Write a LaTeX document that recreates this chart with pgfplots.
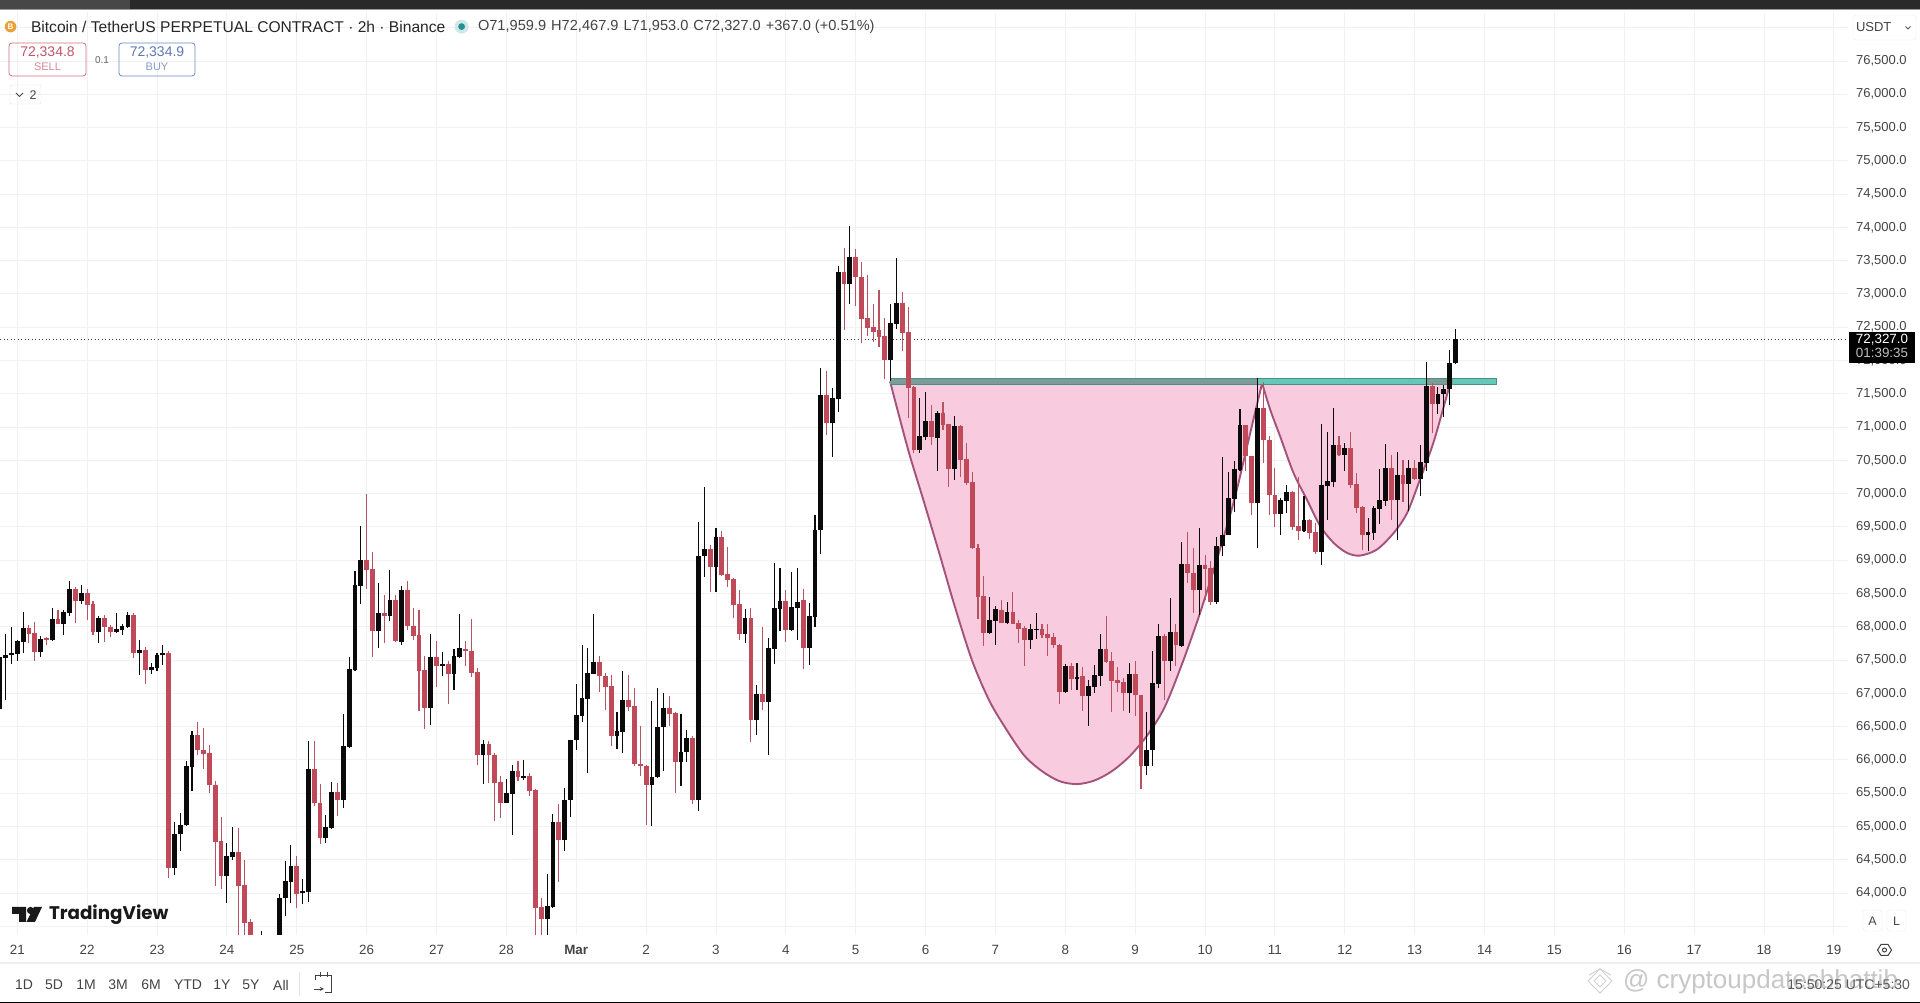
\documentclass[border=0pt]{standalone}
\usepackage{pgfplots}
\usepackage{pgfplotstable}
\usepackage{fontspec}
\pgfplotsset{compat=1.18}
\setmainfont{Liberation Sans}
\newfontfamily\tvfont{Poppins}
\definecolor{cred}{HTML}{C04A5A}
\definecolor{cwick}{HTML}{B85462}
\definecolor{cblk}{HTML}{0A0A0A}
\definecolor{cpink}{HTML}{F8C6DA}
\definecolor{ccurve}{HTML}{A4527C}
\definecolor{cgrid}{HTML}{F1F1F4}
\definecolor{clab}{HTML}{444448}
\definecolor{cteal}{HTML}{63C8B8}
\definecolor{ctealb}{HTML}{4A8F85}
\definecolor{cteald}{HTML}{7D9C97}
\definecolor{cbtc}{HTML}{EDA035}
\newcommand{\fs}[1]{\fontsize{#1}{#1}\selectfont}
\pgfplotstableread{
k o h l c
-3 66765 67555 66755 67540
-2 67530 67895 66905 67570
-1 67570 67990 67445 67600
0 67595 67795 67480 67785
1 67770 68220 67605 67975
2 67985 68020 67755 67895
3 67900 68070 67485 67620
4 67625 67855 67545 67810
5 67825 67845 67720 67795
6 67795 68280 67780 68110
7 68110 68245 68045 68045
8 68045 68255 67870 68220
9 68205 68690 68155 68565
10 68570 68590 68050 68390
11 68390 68630 68345 68500
12 68500 68570 68105 68330
13 68340 68380 67870 67920
14 67920 68155 67755 68125
15 68125 68180 67770 68000
16 68000 68030 67845 67920
17 67925 68205 67920 67960
18 67945 68045 67875 68005
19 67995 68220 67980 68170
20 68180 68205 67535 67605
21 67610 67805 67275 67645
22 67645 67695 67145 67350
23 67355 67455 67295 67390
24 67380 67605 67330 67580
25 67570 67720 67420 67600
26 67605 67630 64230 64380
27 64380 65070 64270 64880
28 64880 65195 64630 65015
29 65015 65980 65005 65905
30 65895 66430 65530 66370
31 66370 66565 66080 66155
32 66155 66480 65865 66090
33 66105 66230 65505 65615
34 65625 65690 64105 64770
35 64780 65140 64055 64255
36 64260 64755 63855 64555
37 64545 64995 64495 64615
38 64615 64980 63300 64105
39 64120 64490 63205 63555
40 63565 63605 62900 63100
41 63100 63300 62600 62800
42 62900 63430 62700 63200
43 63200 63300 62900 63050
44 63050 63300 62950 63180
45 63180 63980 63100 63930
46 63920 64480 63655 64180
47 64170 64720 63855 64405
48 64405 64555 63780 63990
49 63995 64205 63830 64025
50 64020 66280 63870 65865
51 65865 66280 65305 65345
52 65355 65630 64730 64830
53 64830 65165 64745 64995
54 64980 65665 64955 65515
55 65515 65645 65155 65390
56 65390 66690 65280 66205
57 66195 67540 66180 67365
58 67350 68840 67345 68620
59 68615 69520 68345 69000
60 69000 69995 68565 68850
61 68865 69130 67545 67930
62 67930 68650 67680 68200
63 68200 68480 67755 68165
64 68165 68855 68080 68400
65 68400 68480 67770 67780
66 67770 68605 67730 68545
67 68545 68680 67955 68015
68 68015 68280 67805 67865
69 67870 68255 66730 67340
70 67345 67555 66465 66780
71 66780 67890 66530 67540
72 67540 67790 67095 67415
73 67415 67620 67255 67445
74 67440 67480 66845 67295
75 67295 67665 67045 67555
76 67545 68190 67530 67675
77 67670 67790 67415 67630
78 67630 68115 67245 67305
79 67315 67380 65920 66080
80 66080 66305 65630 66240
81 66240 66290 65655 66070
82 66075 66105 65080 65655
83 65665 65755 65130 65355
84 65355 65720 65355 65500
85 65490 65920 64870 65830
86 65830 65980 65680 65740
87 65735 65995 65705 65760
88 65760 65805 65455 65530
89 65545 65565 63200 63780
90 63790 63930 63200 63615
91 63615 64280 63200 63805
92 63795 65180 63780 65065
93 65065 65330 64165 64790
94 64790 65580 64630 65395
95 65390 66305 65140 66305
96 66305 67140 66155 66670
97 66665 67730 66565 66930
98 66920 67680 65805 67305
99 67295 68190 67295 67465
100 67465 67565 67020 67255
101 67255 67305 66755 67095
102 67105 67270 66215 66365
103 66365 66720 66165 66430
104 66420 67330 66105 66895
105 66895 67270 66730 66795
106 66805 67080 65915 65945
107 65945 66515 65755 65915
108 65915 65930 65020 65615
109 65615 66880 65005 65740
110 65740 67080 65730 66490
111 66490 67005 65830 66775
112 66775 66955 66505 66695
113 66705 66715 65505 65965
114 65965 66695 65605 66125
115 66125 66445 65965 66325
116 66330 66355 65330 65395
117 65395 69580 65230 69070
118 69065 70095 68745 69165
119 69165 69230 68515 68905
120 68905 69490 68515 69355
121 69355 69445 68755 68770
122 68790 69205 68595 68695
123 68715 68730 68130 68325
124 68340 68545 67805 67890
125 67895 68265 67755 68125
126 68125 68280 66265 66605
127 66605 67120 66380 66990
128 66990 67995 66745 66870
129 66870 67830 66080 67675
130 67665 68965 67445 68275
131 68265 68880 67930 68380
132 68380 68555 67765 67955
133 67955 68815 67930 68290
134 68285 68880 67805 68365
135 68401 68561 67361 67686
136 67686 68361 67421 68161
137 68151 69686 67996 69451
138 69446 71886 69096 71476
139 71476 71836 70886 71061
140 71061 71586 70551 71431
141 71421 73426 71226 73326
142 73326 73686 72451 73151
143 73151 74026 72846 73561
144 73561 73671 72821 73251
145 73261 73486 72261 72626
146 72636 73286 72371 72486
147 72496 72846 72271 72426
148 72451 73061 72201 72351
149 72361 72636 71726 72011
150 72011 72851 71686 72556
151 72546 73536 72471 72871
152 72871 73036 72136 72411
153 72421 72811 71136 71586
154 71601 71611 70611 70651
155 70651 71436 70611 70861
156 70851 71526 70811 71086
157 71086 71326 70726 70846
158 70836 71236 70336 71211
159 71211 71376 70961 71026
160 71046 71051 70101 70371
161 70371 71161 70211 71011
162 71021 71026 70251 70511
163 70521 70761 70136 70161
164 70171 70321 69161 69176
165 69186 69236 68121 68451
166 68461 68761 67711 67911
167 67911 68446 67901 68101
168 68091 68311 67726 68261
169 68246 68401 68051 68061
170 68061 68371 68051 68221
171 68226 68521 68036 68046
172 68056 68101 67761 67971
173 67981 68011 67411 67796
174 67796 68036 67671 67961
175 67956 68211 67811 67971
176 67971 68036 67836 67876
177 67891 68046 67561 67836
178 67846 67911 67686 67726
179 67729 67739 66844 67019
180 67019 67444 67014 67414
181 67404 67454 67054 67214
182 67214 67454 67054 67249
183 67254 67389 66729 66964
184 66964 67204 66504 67104
185 67094 67419 67004 67269
186 67264 67889 67114 67659
187 67659 68154 67454 67469
188 67479 67614 66724 67189
189 67194 67389 67014 67154
190 67169 67229 66739 67004
191 67004 67454 66704 67284
192 67284 67479 66654 66969
193 66969 66979 65564 65914
194 65914 66719 65774 66144
195 66144 67629 65904 67149
196 67139 68039 67074 67854
197 67854 67889 66904 67489
198 67489 68429 67329 67924
199 67924 68044 67404 67719
200 67714 69269 67704 68939
201 68939 69429 68654 68814
202 68814 69179 68204 68554
203 68554 69489 68179 68934
204 68934 69079 68404 68874
205 68879 68994 68329 68379
206 68369 69354 68344 69219
207 69209 70549 69069 69379
208 69384 70324 69384 69934
209 69924 70494 69719 70364
210 70359 71269 70349 71029
211 71029 71034 70334 70559
212 70564 70569 69674 69859
213 69859 71734 69184 71284
214 71284 71684 70459 70809
215 70809 70859 69684 69974
216 69984 70384 69499 69699
217 69694 69934 69384 69904
218 69894 70124 69709 70024
219 70024 70034 69459 69499
220 69509 70249 69309 69439
221 69439 69969 69434 69609
222 69609 69619 69319 69409
223 69419 69559 69094 69124
224 69124 71049 68934 70124
225 70114 70924 69609 70184
226 70174 71284 70094 70734
227 70734 70859 70569 70579
228 70584 70759 70334 70689
229 70689 70924 70084 70134
230 70139 70309 69709 69784
231 69794 69819 69159 69384
232 69379 69634 69134 69419
233 69409 69809 69309 69784
234 69774 70374 69549 69899
235 69894 70744 69819 70379
236 70379 70574 69609 69904
237 69904 70624 69309 70274
238 70274 70509 69869 70149
239 70149 70499 69734 70379
240 70379 70499 70209 70219
241 70219 70724 69969 70469
242 70459 71974 70334 71624
243 71624 71659 70909 71349
244 71349 71609 71194 71499
245 71494 71634 71149 71574
246 71574 72159 71334 71959
247 71959.9 72467.9 71953 72327
}\candles
\begin{document}
\begin{tikzpicture}
\path[use as bounding box] (0,0) rectangle (1920pt,1003pt);
\fill[white] (0,0) rectangle (1920pt,1003pt);
\begin{axis}[
  at={(0pt,68pt)}, anchor=south west,
  width=1848pt, height=923pt, scale only axis,
  xmin=-2.97, xmax=314.43, ymin=63369, ymax=77236,
  axis line style={draw=none},
  major tick length=0pt,
  scaled y ticks=false,
  xtick={0,12,24,36,48,60,72,84,96,108,120,132,144,156,168,180,192,204,216,228,240,252,264,276,288,300,312},
  xticklabels={21,22,23,24,25,26,27,28,\textbf{Mar},2,3,4,5,6,7,8,9,10,11,12,13,14,15,16,17,18,19},
  ytick={64000,64500,...,76500},
  extra y ticks={63500,77000},
  extra y tick labels={},
  extra y tick style={grid=major},
  ymajorgrids, xmajorgrids,
  grid style={cgrid,line width=0.9pt},
  yticklabel pos=right,
  /pgf/number format/fixed,
  /pgf/number format/fixed zerofill,
  /pgf/number format/precision=1,
  /pgf/number format/1000 sep={,},
  /pgf/number format/assume math mode=true,
  tick label style={font=\fs{13.4},text=clab},
  yticklabel style={xshift=4.5pt,font=\fs{13}},
  xticklabel style={yshift=-6.5pt},
]
% cup and handle areas
\addplot[fill=cpink,draw=none,fill opacity=0.88,forget plot] coordinates {
(149.9,71686)(153.0,70661)(155.6,69911)(158.5,69061)(161,68310)(164,67490)(167,66880)(170,66440)(173,66060)(176,65830)(179,65680)(182,65636)(185,65690)(188,65830)(191,66050)(194,66360)(197,66780)(200,67430)(203,68170)(206,69000)(209,69900)(212,71000)(213.8,71659)(149.9,71686)};
\addplot[fill=cpink,draw=none,fill opacity=0.88,forget plot] coordinates {
(213.8,71659)(215.2,71259)(216.9,70859)(219.2,70309)(221.5,69909)(223.8,69509)(226.1,69259)(228.4,69109)(230.6,69069)(233.5,69159)(236.4,69409)(238.7,69709)(240.9,70209)(243.2,70759)(245.0,71309)(246.1,71659)(213.8,71659)};
% the curves
\addplot[ccurve,line width=1.9pt,smooth,forget plot] coordinates {
(149.9,71686)(153.0,70661)(155.6,69911)(158.5,69061)(161,68310)(164,67490)(167,66880)(170,66440)(173,66060)(176,65830)(179,65680)(182,65636)(185,65690)(188,65830)(191,66050)(194,66360)(197,66780)(200,67430)(203,68170)(206,69000)(209,69900)(212,71000)(213.8,71659)};
\addplot[ccurve,line width=1.9pt,smooth,forget plot] coordinates {
(213.8,71659)(215.2,71259)(216.9,70859)(219.2,70309)(221.5,69909)(223.8,69509)(226.1,69259)(228.4,69109)(230.6,69069)(233.5,69159)(236.4,69409)(238.7,69709)(240.9,70209)(243.2,70759)(245.0,71309)(246.1,71659)};
% resistance band
\addplot[fill=cteal,draw=ctealb,line width=0.8pt,forget plot] coordinates {(149.9,71725)(254,71725)(254,71645)(149.9,71645)(149.9,71725)};
\addplot[fill=cteald,draw=none,forget plot] coordinates {(149.9,71720)(213,71720)(213,71650)(149.9,71650)(149.9,71720)};
\addplot[fill=cteald,draw=none,forget plot] coordinates {(242,71720)(246.5,71720)(246.5,71650)(242,71650)(242,71720)};
% last price line
\addplot[black!75,line width=0.9pt,dash pattern=on 1pt off 2.5pt,forget plot] coordinates {(-2.97,72310)(314.43,72310)};
% candles: wicks
\addplot[draw=none,mark=none,forget plot,error bars/.cd,y dir=both,y explicit,error mark=none,error bar style={draw=cwick,line width=1.1pt}]
 table[x expr={\thisrow{c}<\thisrow{o}?\thisrow{k}:nan},y=o,y error plus expr=\thisrow{h}-\thisrow{o},y error minus expr=\thisrow{o}-\thisrow{l}] {\candles};
\addplot[draw=none,mark=none,forget plot,error bars/.cd,y dir=both,y explicit,error mark=none,error bar style={draw=cblk,line width=1.1pt}]
 table[x expr={\thisrow{c}>=\thisrow{o}?\thisrow{k}:nan},y=o,y error plus expr=\thisrow{h}-\thisrow{o},y error minus expr=\thisrow{o}-\thisrow{l}] {\candles};
% candles: bodies
\addplot[draw=none,mark=none,forget plot,error bars/.cd,y dir=both,y explicit,error mark=none,error bar style={draw=cred,line width=4.8pt}]
 table[x expr={\thisrow{c}<\thisrow{o}?\thisrow{k}:nan},y=o,y error plus expr=0,y error minus expr=\thisrow{o}-\thisrow{c}] {\candles};
\addplot[draw=none,mark=none,forget plot,error bars/.cd,y dir=both,y explicit,error mark=none,error bar style={draw=cblk,line width=4.8pt}]
 table[x expr={\thisrow{c}>=\thisrow{o}?\thisrow{k}:nan},y=o,y error plus expr=\thisrow{c}-\thisrow{o},y error minus expr=0] {\candles};
\end{axis}
% ---- interface furniture, in pixel positions of the screenshot ----
\begin{scope}[shift={(0,1003pt)},x=1pt,y=-1pt,every node/.style={inner sep=0pt,outer sep=0pt}]
% top bar
\fill[black!84] (0,0) rectangle (1920,9.5);
\fill[black!72] (0,0) rectangle (130,9.5);
\fill[black!40] (0,9.5) rectangle (1920,10.5);
% header
\fill[cbtc] (10.6,26.6) circle (5.8);
\node[text=white] at (10.6,26.6) {\fs{8}\textbf{B}};
\node[anchor=west,text=black!85] at (31,26.6) {\fs{15.6}Bitcoin / TetherUS PERPETUAL CONTRACT · 2h · Binance};
\fill[teal!18] (461.6,26.6) circle (7);
\fill[teal!85] (461.6,26.6) circle (3.4);
\node[anchor=west,text=clab] at (478,26.6) {\fs{14.6}O71,959.9\hspace{5pt}H72,467.9\hspace{5pt}L71,953.0\hspace{5pt}C72,327.0\hspace{5pt}+367.0 (+0.51\%)};
% sell / buy
\draw[draw={rgb,255:red,208;green,112;blue,128},line width=0.8pt,rounded corners=3pt] (9,43) rectangle (86,76);
\node[text={rgb,255:red,192;green,86;blue,106}] at (47.5,52.5) {\fs{14}72,334.8};
\node[text={rgb,255:red,214;green,140;blue,150}] at (47.5,66.5) {\fs{11}SELL};
\node[text=black!60] at (102,60) {\fs{10}0.1};
\draw[draw={rgb,255:red,106;green,139;blue,192},line width=0.8pt,rounded corners=3pt] (119,43) rectangle (195,76);
\node[text={rgb,255:red,93;green,121;blue,181}] at (157,52.5) {\fs{14}72,334.9};
\node[text={rgb,255:red,130;green,155;blue,200}] at (157,66.5) {\fs{11}BUY};
\draw[black!12,rounded corners=2pt] (10,85) rectangle (41,104);
\draw[black!70,line width=0.9pt] (16,93) -- (19.5,96.5) -- (23,93);
\node[text=clab] at (33,95) {\fs{12.5}2};
% USDT selector
\draw[black!8,rounded corners=3pt] (1853,15) rectangle (1916,40);
\node[anchor=west,text=clab] at (1856,27.5) {\fs{13}USDT};
\draw[black!65,line width=0.8pt] (1905.5,26.5) -- (1908,29) -- (1910.5,26.5);
% price label
\fill[black] (1849,332) rectangle (1915,363);
\node[text=white] at (1882,339.5) {\fs{13.4}72,327.0};
\node[text=white!75!black] at (1882,353) {\fs{13.4}01:39:35};
% TradingView logo
\fill[black!90] (12,907) -- (26,907) -- (26,922) -- (19,922) -- (19,914) -- (12,914) -- cycle;
\fill[black!90] (30.5,910.5) circle (3.6);
\fill[black!90] (34,907) -- (42,907) -- (35,922) -- (26.5,922) -- cycle;
\node[anchor=west,text=black!90] at (49,915) {\tvfont\fs{18.3}\bfseries TradingView};
% A / L buttons
\draw[black!8,rounded corners=3pt] (1863,910) rectangle (1882,931);
\draw[black!8,rounded corners=3pt] (1887,910) rectangle (1906,931);
\node[text=clab] at (1872.5,921) {\fs{12.5}A};
\node[text=clab] at (1896.5,921) {\fs{12.5}L};
% settings
\draw[black!75,line width=1pt] (1877.5,950) -- (1881,944.5) -- (1888,944.5) -- (1891.5,950) -- (1888,955.5) -- (1881,955.5) -- cycle;
\draw[black!75,line width=1pt] (1884.5,950) circle (2);
% bottom bar
\fill[black!6] (0,962.5) rectangle (1920,964);
\foreach \xx/\tt in {24/1D,54/5D,86/1M,118/3M,151/6M,188/YTD,222/1Y,251/5Y,281/All}
  \node[text=clab] at (\xx,985) {\fs{14}\tt};
\draw[black!10] (299.5,972) -- (299.5,996);
\draw[black!75,line width=0.9pt] (315,980) -- (315,975) -- (331,975) -- (331,992) -- (325,992);
\draw[black!75,line width=0.9pt] (320,972) -- (320,977) (327,972) -- (327,977);
\draw[black!75,line width=0.9pt,-stealth] (314,989) -- (324,989);
% watermark
\foreach \dy/\dd in {0/12,0/6} \draw[black!18,line width=1pt] (1600,981-\dd) -- (1600+\dd,981) -- (1600,981+\dd) -- (1600-\dd,981) -- cycle;
\draw[black!18,line width=1pt] (1589,975) -- (1600,969) -- (1611,975);
\node[anchor=west,text=black!22] at (1623,982) {\fs{26}@ cryptoupdatesbhattib};
\node[anchor=east,text=black!65] at (1910,984.5) {\fs{14}15:50:25 UTC+5:30};
% bottom edge
\fill[black] (0,1001.7) rectangle (1920,1003);
\end{scope}
\end{tikzpicture}
\end{document}
